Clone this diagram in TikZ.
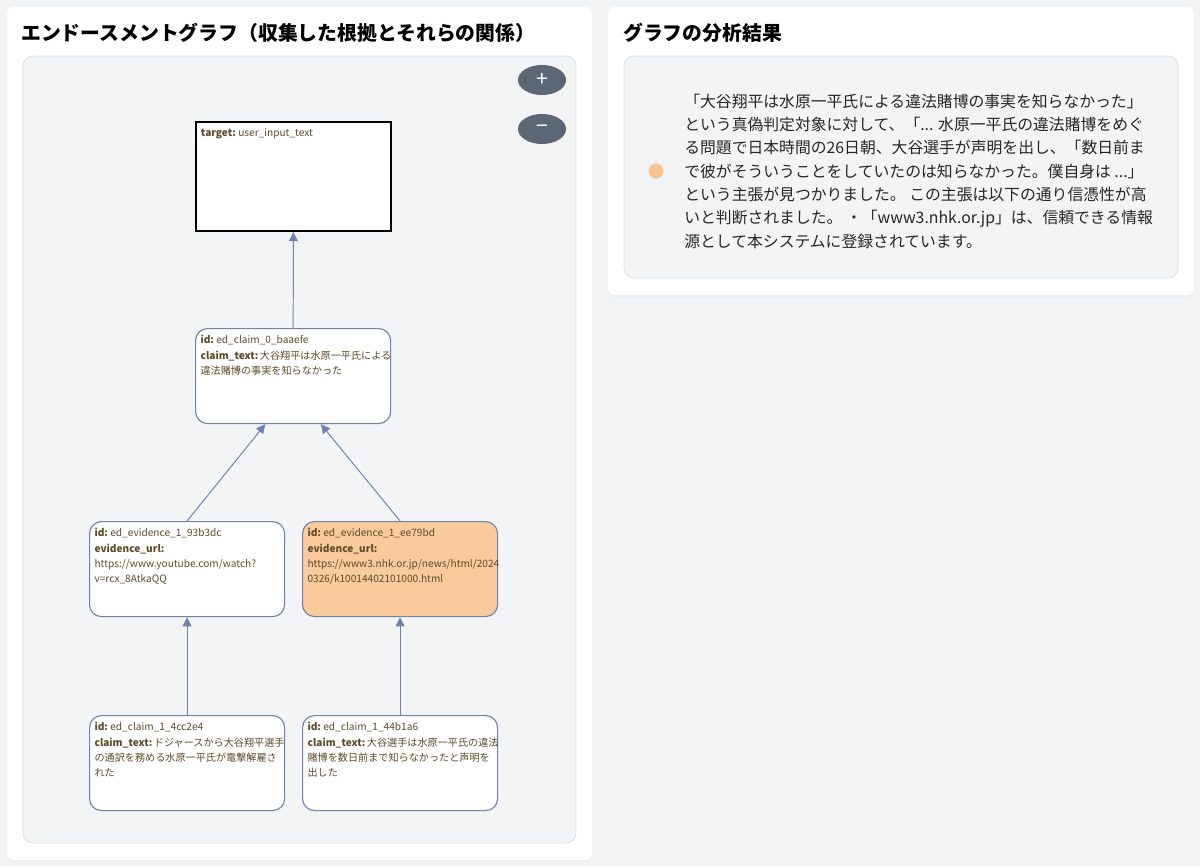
\documentclass[tikz,border=0pt]{standalone}
\usepackage{fontspec}
\setmainfont{Noto Sans CJK JP}
\usetikzlibrary{arrows.meta,shapes.geometric}

\definecolor{pagegray}{RGB}{242,243,245}
\definecolor{panelgray}{RGB}{243,244,246}
\definecolor{panelline}{RGB}{222,223,226}
\definecolor{edgeblue}{RGB}{110,130,172}
\definecolor{nodetext}{RGB}{95,74,40}
\definecolor{peach}{RGB}{248,202,156}
\definecolor{dotorange}{RGB}{245,197,147}
\definecolor{btngray}{RGB}{91,103,116}

\newcommand{\keylabel}[1]{\textbf{#1:}~}
\newcommand{\boxtext}[2]{\parbox[t][#1][t]{4.625cm}{\raggedright #2}}

\begin{document}
\begin{tikzpicture}[x=0.025cm, y=-0.025cm,
	card/.style={fill=white, rounded corners=0.15cm},
	panel/.style={fill=panelgray, draw=panelline, line width=0.6pt, rounded corners=0.25cm},
	paneltitle/.style={anchor=west, inner sep=0pt, font=\fontsize{14.1pt}{16pt}\selectfont\bfseries},
	nodebox/.style={anchor=north west, draw=edgeblue, line width=0.8pt, fill=white, rounded corners=0.3cm, inner xsep=0.125cm, inner ysep=0.175cm, text=nodetext, font=\fontsize{7.2pt}{10.7pt}\selectfont},
	targetbox/.style={nodebox, draw=black, line width=1.4pt, sharp corners},
	zoombtn/.style={ellipse, fill=btngray, text=white, minimum width=1.2cm, minimum height=0.75cm, inner sep=0pt, font=\fontsize{15pt}{15pt}\selectfont},
	link/.style={draw=edgeblue, line width=0.7pt, -{Triangle[length=0.23cm, width=0.22cm]}}
	]
	
	\fill[pagegray] (0,0) rectangle (1200,866);
	\useasboundingbox (0,0) rectangle (1200,866);
	
	% cards
	\fill[black!7, rounded corners=0.15cm] (7,9) rectangle (592,862);
	\fill[black!7, rounded corners=0.15cm] (608,9) rectangle (1194,297);
	\path[card] (7,7) rectangle (592,860);
	\path[card] (608,7) rectangle (1194,295);
	
	\node[paneltitle] (graphtitle) at (21,33) {エンドースメントグラフ（収集した根拠とそれらの関係）};
	\node[paneltitle] (resulttitle) at (623,33) {グラフの分析結果};
	
	\path[panel] (23,56) rectangle (576,843);
	\path[panel] (624,56) rectangle (1178,278);
	
	\node[zoombtn] (zoomin) at (542,80) {+};
	\node[zoombtn] (zoomout) at (542,129) {−};
	
	% graph
	\node[targetbox] (target) at (195,121) {\boxtext{2.375cm}{\keylabel{target}user\_input\_text}};
	\node[nodebox] (claim0) at (195,328) {\boxtext{2.025cm}{\keylabel{id}ed\_claim\_0\_baaefe\\
			\keylabel{claim\_text}大谷翔平は水原一平氏による\\違法賭博の事実を知らなかった}};
	\node[nodebox] (ev1) at (89,521) {\boxtext{2.025cm}{\keylabel{id}ed\_evidence\_1\_93b3dc\\
			\keylabel{evidence\_url}\\https://www.youtube.com/watch?\\v=rcx\_8AtkaQQ}};
	\node[nodebox, fill=peach] (ev2) at (302,521) {\boxtext{2.025cm}{\keylabel{id}ed\_evidence\_1\_ee79bd\\
			\keylabel{evidence\_url}\\https://www3.nhk.or.jp/news/html/2024\\0326/k10014402101000.html}};
	\node[nodebox] (claim1a) at (89,715) {\boxtext{2.025cm}{\keylabel{id}ed\_claim\_1\_4cc2e4\\
			\keylabel{claim\_text}ドジャースから大谷翔平選手\\の通訳を務める水原一平氏が電撃解雇さ\\れた}};
	\node[nodebox] (claim1b) at (302,715) {\boxtext{2.025cm}{\keylabel{id}ed\_claim\_1\_44b1a6\\
			\keylabel{claim\_text}大谷選手は水原一平氏の違法\\賭博を数日前まで知らなかったと声明を\\出した}};
	
	\draw[link] (claim0) -- (target);
	\draw[link] (ev1.north) -- (claim0.240);
	\draw[link] (ev2.north) -- (claim0.300);
	\draw[link] (claim1a) -- (ev1);
	\draw[link] (claim1b) -- (ev2);
	
	% result
	\node[circle, fill=dotorange, minimum size=0.375cm, inner sep=0pt] (marker) at (656,171) {};
	\node[anchor=west, align=left, inner sep=0pt, text=black!85, font=\fontsize{11.25pt}{16.6pt}\selectfont] (summary) at (684,171) {「大谷翔平は水原一平氏による違法賭博の事実を知らなかった」\\
		という真偽判定対象に対して、「... 水原一平氏の違法賭博をめぐ\\
		る問題で日本時間の26日朝、大谷選手が声明を出し、「数日前ま\\
		で彼がそういうことをしていたのは知らなかった。僕自身は ...」\\
		という主張が見つかりました。 この主張は以下の通り信憑性が高\\
		いと判断されました。 ・「www3.nhk.or.jp」は、信頼できる情報\\
		源として本システムに登録されています。};
	
\end{tikzpicture}
\end{document}
